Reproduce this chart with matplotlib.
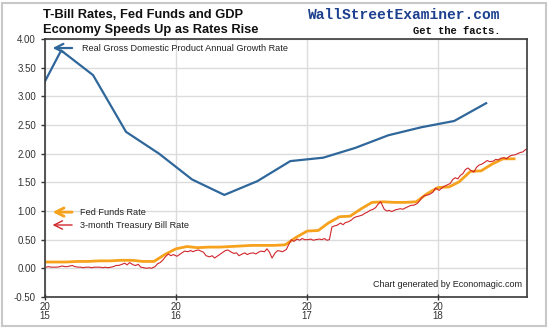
import pandas as pd
import matplotlib.pyplot as plt
from matplotlib.patches import Rectangle

plt.rcParams["font.family"] = ["Liberation Sans", "DejaVu Sans"]

# Real GDP, annual growth rate (quarterly, plotted mid-quarter)
gdp_dates = pd.date_range("2014-11-01", periods=15, freq="3MS") + pd.Timedelta(days=14)
gdp = [2.70, 3.80, 3.37, 2.38, 2.00, 1.55, 1.28, 1.52, 1.87, 1.93, 2.10, 2.32, 2.46, 2.57, 2.88]

# Effective fed funds rate (monthly)
ff_dates = pd.date_range("2015-01-01", "2018-08-01", freq="MS")
fedfunds = [0.11, 0.11, 0.11, 0.12, 0.12, 0.13, 0.13, 0.14, 0.14, 0.12, 0.12, 0.24,
            0.34, 0.38, 0.36, 0.37, 0.37, 0.38, 0.39, 0.40, 0.40, 0.40, 0.41, 0.54,
            0.65, 0.66, 0.79, 0.90, 0.91, 1.04, 1.15, 1.16, 1.15, 1.15, 1.16, 1.30,
            1.41, 1.42, 1.51, 1.69, 1.70, 1.82, 1.91, 1.91]

# 3-month T-bill rate, four readings a month
tbill_2015 = [0.02, 0.03, 0.02, 0.02, 0.02, 0.03, 0.04, 0.03, 0.03, 0.04, 0.05, 0.03,
              0.02, 0.02, 0.01, 0.02, 0.02, 0.01, 0.02, 0.02, 0.02, 0.01, 0.02, 0.01,
              0.02, 0.03, 0.05, 0.05, 0.07, 0.09, 0.06, 0.10, 0.06, 0.05, 0.07, 0.02,
              0.01, 0.00, 0.01, 0.00, 0.03, 0.08, 0.10, 0.14, 0.21, 0.25, 0.22, 0.24]
tbill_2016 = [0.21, 0.24, 0.27, 0.30, 0.29, 0.31, 0.29, 0.31, 0.32, 0.30, 0.28, 0.22,
              0.20, 0.22, 0.18, 0.21, 0.25, 0.28, 0.31, 0.32, 0.28, 0.26, 0.27, 0.22,
              0.25, 0.27, 0.24, 0.26, 0.27, 0.25, 0.28, 0.30, 0.29, 0.34, 0.28, 0.18,
              0.27, 0.31, 0.30, 0.29, 0.33, 0.42, 0.50, 0.47, 0.51, 0.49, 0.52, 0.50]
tbill_2017 = [0.50, 0.51, 0.49, 0.50, 0.51, 0.50, 0.52, 0.49, 0.50, 0.72, 0.74, 0.75,
              0.79, 0.76, 0.80, 0.81, 0.84, 0.88, 0.90, 0.91, 0.93, 0.96, 0.98, 1.01,
              1.03, 1.06, 1.12, 1.16, 1.03, 1.00, 1.01, 0.99, 1.02, 1.03, 1.04, 1.03,
              1.06, 1.08, 1.10, 1.10, 1.13, 1.18, 1.24, 1.27, 1.28, 1.30, 1.33, 1.40]
tbill_2018 = [1.36, 1.40, 1.43, 1.45, 1.48, 1.55, 1.58, 1.56, 1.62, 1.65, 1.72, 1.75,
              1.70, 1.68, 1.76, 1.80, 1.82, 1.85, 1.88, 1.86, 1.87, 1.90, 1.89, 1.92,
              1.93, 1.91, 1.95, 1.97, 1.98, 2.00, 2.02, 2.03, 2.08]
tbill = tbill_2015 + tbill_2016 + tbill_2017 + tbill_2018

tb_dates = []
for m in pd.date_range("2015-01-01", "2018-09-01", freq="MS"):
    for d in (3, 10, 17, 24):
        tb_dates.append(m + pd.Timedelta(days=d))
tb_dates = tb_dates[:len(tbill)]

year_ticks = pd.to_datetime(["2015-01-01", "2016-01-01", "2017-01-01", "2018-01-01"])
year_labels = ["20\n15", "20\n16", "20\n17", "20\n18"]

fig = plt.figure(figsize=(5.5, 3.29), dpi=100)
ax = fig.add_axes([0.0818, 0.0973, 0.8764, 0.7842])

ax.plot(gdp_dates, gdp, color="#2f679b", linewidth=1.6)
ax.plot(ff_dates, fedfunds, color="#f6a21d", linewidth=2.0)
ax.plot(tb_dates, tbill, color="#d1262b", linewidth=0.8)

ax.set_xlim(pd.Timestamp("2015-01-01"), pd.Timestamp("2018-09-06"))
ax.set_ylim(-0.5, 4.0)
ax.set_yticks([-0.5, 0, 0.5, 1.0, 1.5, 2.0, 2.5, 3.0, 3.5, 4.0])
ax.yaxis.set_major_formatter(plt.FuncFormatter(lambda v, p: f"{v:.2f}"))
ax.set_xticks(year_ticks)
ax.set_xticklabels(year_labels, linespacing=0.85)
ax.tick_params(axis="both", labelsize=7, colors="#333333", length=3, width=1)
ax.tick_params(axis="x", direction="inout", length=5, pad=1)
ax.grid(True, color="#dcdcdc", linewidth=1)
ax.set_axisbelow(True)
for s in ax.spines.values():
    s.set_color("#3a3a3a")
    s.set_linewidth(1.2)

# legend arrows
ax.annotate("", xy=(0.010, 0.965), xytext=(0.062, 0.965), xycoords="axes fraction",
            arrowprops=dict(arrowstyle="->", color="#2f679b", lw=1.6, mutation_scale=15))
ax.text(0.077, 0.965, "Real Gross Domestic Product Annual Growth Rate", transform=ax.transAxes,
        fontsize=6.6, va="center", color="#222222")
ax.annotate("", xy=(0.010, 0.329), xytext=(0.062, 0.329), xycoords="axes fraction",
            arrowprops=dict(arrowstyle="->", color="#f6a21d", lw=2.0, mutation_scale=15))
ax.text(0.073, 0.329, "Fed Funds Rate", transform=ax.transAxes,
        fontsize=6.6, va="center", color="#222222")
ax.annotate("", xy=(0.010, 0.279), xytext=(0.062, 0.279), xycoords="axes fraction",
            arrowprops=dict(arrowstyle="->", color="#d1262b", lw=1.0, mutation_scale=15))
ax.text(0.073, 0.279, "3-month Treasury Bill Rate", transform=ax.transAxes,
        fontsize=6.6, va="center", color="#222222")
ax.text(0.99, 0.03, "Chart generated by Economagic.com", transform=ax.transAxes,
        fontsize=6.5, ha="right", va="bottom", color="#222222")

fig.text(0.078, 0.955, "T-Bill Rates, Fed Funds and GDP", fontsize=9.3, fontweight="bold",
         va="center", color="#111111")
fig.text(0.078, 0.908, "Economy Speeds Up as Rates Rise", fontsize=9.3, fontweight="bold",
         va="center", color="#111111")
fig.text(0.91, 0.953, "WallStreetExaminer.com", fontsize=10.5, fontweight="bold",
         family="Liberation Mono", ha="right", va="center", color="#1c3f8e")
fig.text(0.91, 0.906, "Get the facts.", fontsize=7.6, fontweight="bold",
         family="Liberation Mono", ha="right", va="center", color="#111111")

fig.patches.append(Rectangle((0.004, 0.009), 0.988, 0.982, transform=fig.transFigure,
                             fill=False, edgecolor="#c8c8c8", linewidth=1.5))

fig.savefig("out.png", dpi=100)
